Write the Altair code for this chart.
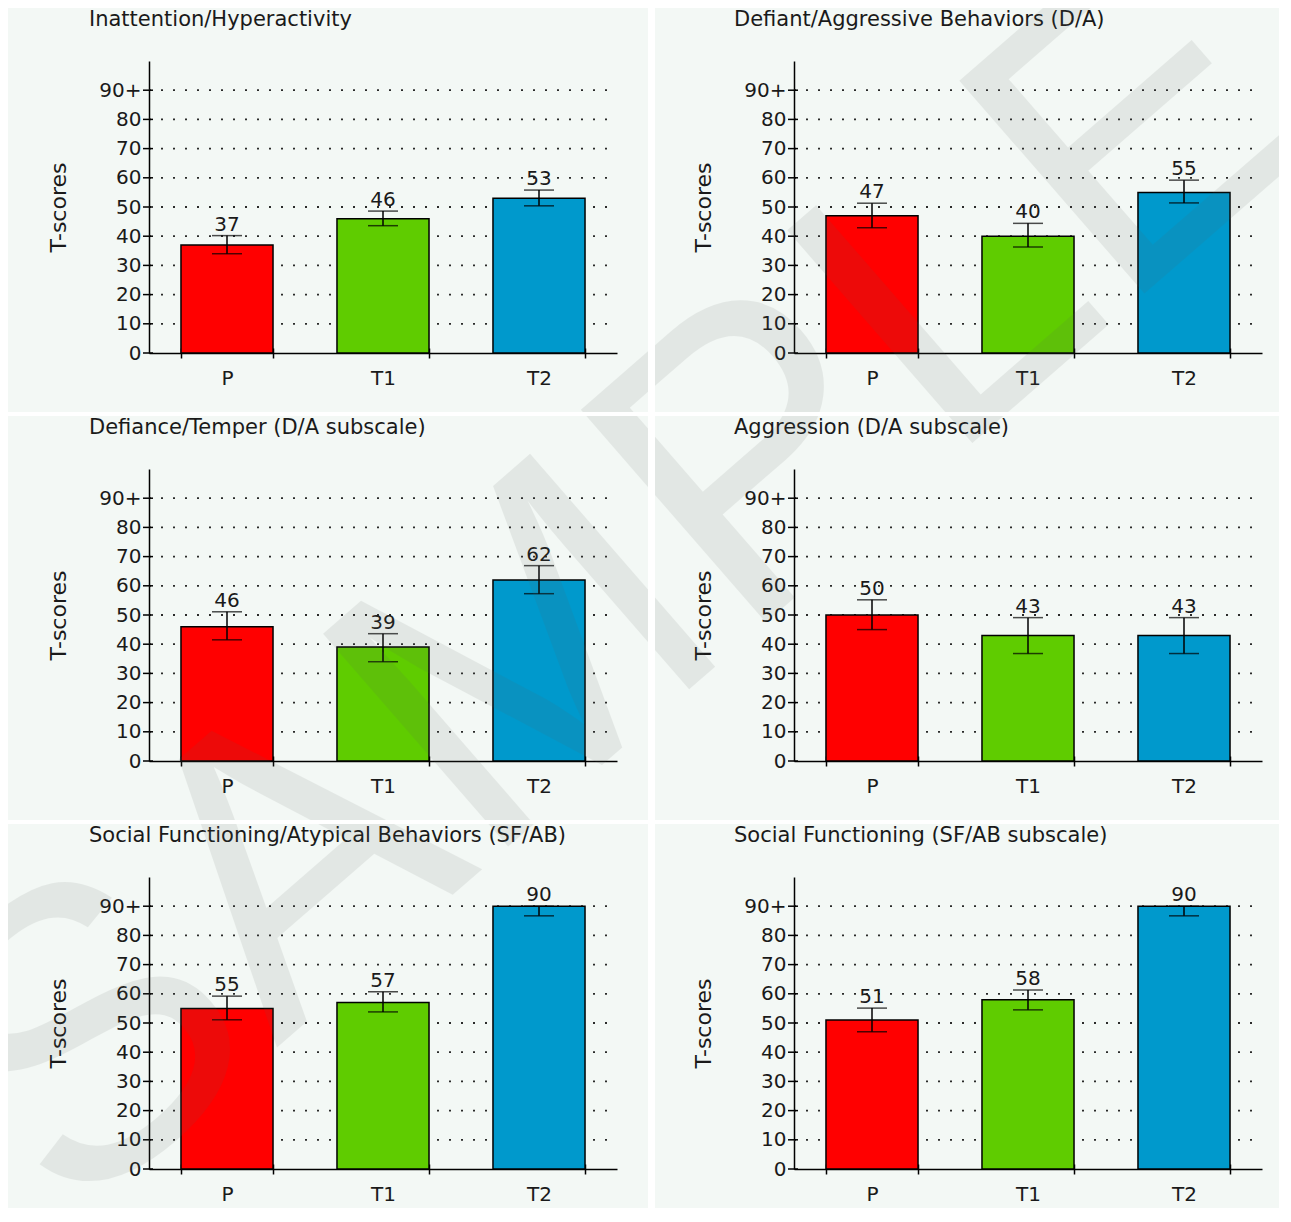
import altair as alt
import pandas as pd

titles = [
    "Inattention/Hyperactivity",
    "Defiant/Aggressive Behaviors (D/A)",
    "Defiance/Temper (D/A subscale)",
    "Aggression (D/A subscale)",
    "Social Functioning/Atypical Behaviors (SF/AB)",
    "Social Functioning (SF/AB subscale)",
]
groups = ["P", "T1", "T2"]
colors = ["#ff0000", "#5fcc00", "#0099cc"]
scores = [[37, 46, 53], [47, 40, 55], [46, 39, 62], [50, 43, 43], [55, 57, 90], [51, 58, 90]]
err_low = [[34.0, 43.6, 50.4], [42.9, 36.3, 51.4], [41.5, 34.0, 57.3],
           [45.0, 36.8, 36.8], [51.1, 53.8, 86.7], [47.0, 54.5, 86.7]]
err_high = [[40.2, 48.6, 55.8], [51.3, 44.4, 59.2], [51.1, 43.6, 66.9],
            [55.2, 49.1, 49.1], [59.2, 60.7, 90.0], [55.1, 61.3, 90.0]]
y_ticks = [0, 10, 20, 30, 40, 50, 60, 70, 80, 90]
grid_vals = [10, 20, 30, 40, 50, 60, 70, 80, 90]
watermark = "SAMPLE"

FONT = "DejaVu Sans"
INK = "#1a1a1a"
PANEL_BG = "#f3f8f5"
COL_W = [640, 624]
ROW_H = [404, 404, 384]
COL_X = [8, 655]
ROW_Y = [8, 416, 824]
WM_CX, WM_CY, WM_SIZE, WM_ANGLE = 617, 589, 410, 319


def panel(i):
    col, row = i % 2, i // 2
    W, H = COL_W[col], ROW_H[row]
    ax = 141 if col == 0 else 139
    y0, y100 = 345, 53
    df = pd.DataFrame({"group": groups, "score": scores[i],
                       "lo": err_low[i], "hi": err_high[i]})
    xs = alt.Scale(domain=groups, range=[ax, ax + 468], paddingInner=0.41, paddingOuter=0.205)
    ys = alt.Scale(domain=[0, 100], range=[y0, y100], nice=False, zero=True)
    x_axis = alt.Axis(title=None, labelAngle=0, offset=y0 - H, tickBand="extent",
                      labelFontSize=20, labelColor=INK, labelPadding=10, labelFont=FONT,
                      domainColor="black", domainWidth=1.5, tickColor="black",
                      tickWidth=1.5, tickSize=5, grid=False)
    up_axis = alt.Axis(title=None, orient="top", offset=-y0, labels=False, domain=False,
                       tickBand="extent", tickColor="black", tickWidth=1.5, tickSize=5,
                       grid=False)
    y_axis = alt.Axis(title="T-scores", values=y_ticks, offset=-ax, grid=False,
                      ticks=False, tickSize=0, labelPadding=8, labelFontSize=20,
                      labelColor=INK, labelFont=FONT,
                      labelExpr="datum.value == 90 ? '90+' : datum.label",
                      domainColor="black", domainWidth=1.5,
                      titleFontSize=22, titleFontWeight="normal", titleColor=INK,
                      titleFont=FONT, titleX=-79, titleY=199)
    X = alt.X("group:N", scale=xs, sort=groups, axis=x_axis)

    grid = alt.Chart(pd.DataFrame({"score": grid_vals})).mark_rule(
        color="#2a2a2a", strokeWidth=1.8, strokeDash=[2, 10]
    ).encode(y=alt.Y("score:Q", scale=ys, axis=y_axis),
             x=alt.value(ax), x2=alt.value(ax + 468))

    ticks = alt.Chart(pd.DataFrame({"score": y_ticks})).mark_rule(
        color="black", strokeWidth=1.5
    ).encode(y=alt.Y("score:Q", scale=ys, axis=y_axis),
             x=alt.value(ax - 6), x2=alt.value(ax + 4))

    base = alt.Chart(df)
    bars = base.mark_bar(stroke="black", strokeWidth=1.5).encode(
        x=X, y=alt.Y("score:Q", scale=ys, axis=y_axis),
        color=alt.Color("group:N", scale=alt.Scale(domain=groups, range=colors), legend=None))
    err = base.mark_rule(color="black", strokeWidth=1.5).encode(
        x=X, y=alt.Y("lo:Q", scale=ys, axis=y_axis), y2="hi:Q")
    cap_lo = base.mark_tick(color="black", size=30, thickness=1.5).encode(
        x=X, y=alt.Y("lo:Q", scale=ys, axis=y_axis))
    cap_hi = base.mark_tick(color="black", size=30, thickness=1.5).encode(
        x=X, y=alt.Y("hi:Q", scale=ys, axis=y_axis))
    labels = base.mark_text(baseline="alphabetic", dy=-5, fontSize=20, font=FONT,
                            color=INK).encode(
        x=X, y=alt.Y("hi:Q", scale=ys, axis=y_axis), text="score:Q")
    title = alt.Chart(pd.DataFrame({"t": [titles[i]]})).mark_text(
        align="left", baseline="middle", fontSize=21, font=FONT, color=INK
    ).encode(x=alt.value(81 if col == 0 else 79), y=alt.value(12), text="t:N")
    wm = alt.Chart(pd.DataFrame({"t": [watermark]})).mark_text(
        align="center", baseline="middle", fontSize=WM_SIZE, font="Liberation Sans",
        angle=WM_ANGLE, color="#5a605c", opacity=0.1, clip=True
    ).encode(x=alt.value(WM_CX - COL_X[col]), y=alt.value(WM_CY - ROW_Y[row]), text="t:N")

    upticks = base.mark_rule(opacity=0).encode(
        x=alt.X("group:N", scale=xs, sort=groups, axis=up_axis))

    main = alt.layer(grid, ticks, bars, err, cap_lo, cap_hi, labels, title, wm)
    return alt.layer(main, upticks).resolve_axis(x="independent").properties(
        width=W, height=H)


chart = alt.concat(*[panel(i) for i in range(6)], columns=2,
                   spacing=alt.RowColnumber(column=7, row=4), bounds="flush").properties(
    padding=0, background="white"
).configure(font=FONT).configure_view(fill=PANEL_BG, stroke=PANEL_BG, strokeWidth=0)

chart.save("out.html", embed_options={"renderer": "svg", "actions": False})
